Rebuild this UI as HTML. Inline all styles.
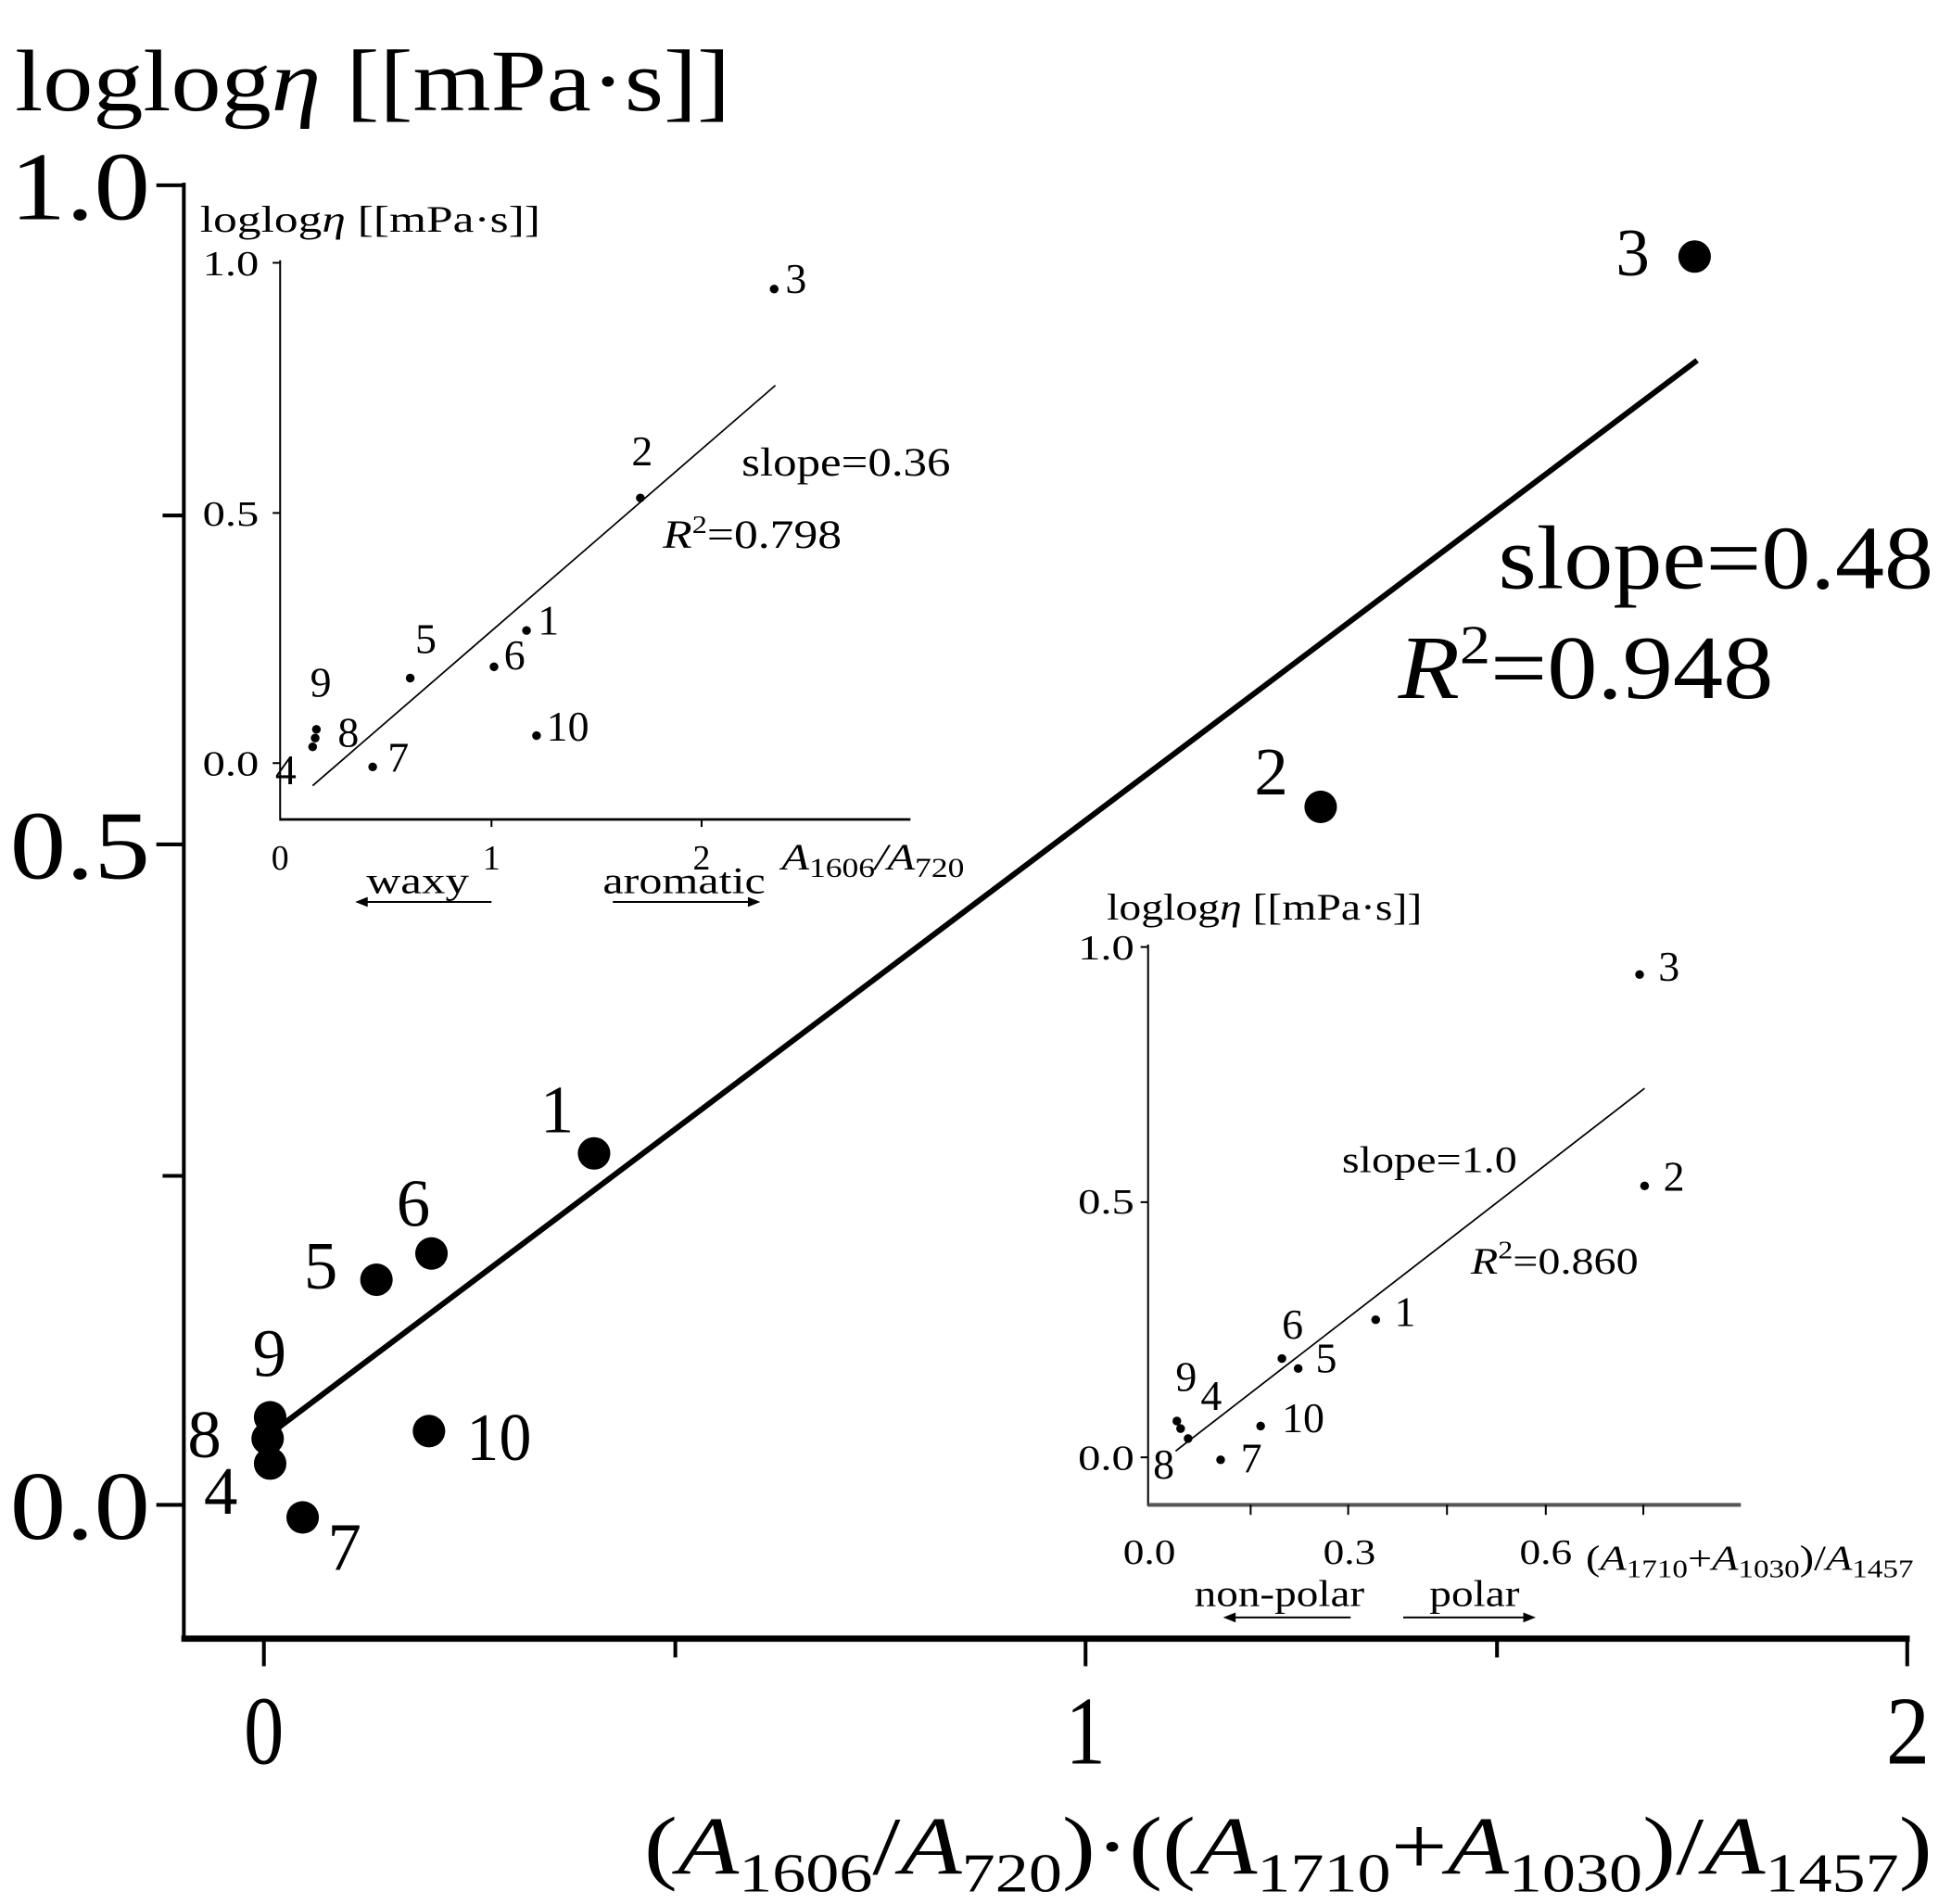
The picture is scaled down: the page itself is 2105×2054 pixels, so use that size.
<!DOCTYPE html>
<html><head><meta charset="utf-8"><style>html,body{margin:0;padding:0;background:#fff}svg{display:block}text{font-family:"Liberation Serif","Times New Roman",serif;fill:#000}</style></head><body>
<svg width="2105" height="2054" viewBox="0 0 1560 1522" xmlns="http://www.w3.org/2000/svg" font-family="Liberation Serif, serif">
<rect width="1560" height="1522" fill="#fff"/>
<text x="12" y="88" font-size="70" textLength="572" lengthAdjust="spacingAndGlyphs">loglog<tspan font-style="italic">η</tspan> [[mPa·s]]</text>
<g stroke="#000" fill="none">
<line x1="147" y1="146" x2="147" y2="1312" stroke-width="3"/>
<line x1="145" y1="1310" x2="1527" y2="1310" stroke-width="5"/>
<g stroke-width="3">
<line x1="125" y1="148" x2="147" y2="148"/><line x1="130" y1="412" x2="147" y2="412"/><line x1="125" y1="675" x2="147" y2="675"/><line x1="130" y1="940" x2="147" y2="940"/><line x1="125" y1="1203" x2="147" y2="1203"/>
<line x1="211" y1="1310" x2="211" y2="1332"/><line x1="540" y1="1310" x2="540" y2="1325"/><line x1="868" y1="1310" x2="868" y2="1332"/><line x1="1197" y1="1310" x2="1197" y2="1325"/><line x1="1525" y1="1310" x2="1525" y2="1332"/>
</g>
<line x1="211" y1="1150" x2="1357" y2="288" stroke-width="4.5"/>
</g>
<g font-size="78">
<text x="8" y="175" textLength="112" lengthAdjust="spacingAndGlyphs">1.0</text>
<text x="8" y="702" textLength="112" lengthAdjust="spacingAndGlyphs">0.5</text>
<text x="8" y="1230" textLength="112" lengthAdjust="spacingAndGlyphs">0.0</text>
<text x="195" y="1410" textLength="32" lengthAdjust="spacingAndGlyphs">0</text>
<text x="852" y="1410" textLength="32" lengthAdjust="spacingAndGlyphs">1</text>
<text x="1508" y="1410" textLength="35" lengthAdjust="spacingAndGlyphs">2</text>
</g>
<text x="515" y="1498" font-size="66" textLength="1030" lengthAdjust="spacingAndGlyphs">(<tspan font-style="italic">A</tspan><tspan font-size="44" dy="14">1606</tspan><tspan dy="-14">/</tspan><tspan font-style="italic">A</tspan><tspan font-size="44" dy="14">720</tspan><tspan dy="-14">)·((</tspan><tspan font-style="italic">A</tspan><tspan font-size="44" dy="14">1710</tspan><tspan dy="-14">+</tspan><tspan font-style="italic">A</tspan><tspan font-size="44" dy="14">1030</tspan><tspan dy="-14">)/</tspan><tspan font-style="italic">A</tspan><tspan font-size="44" dy="14">1457</tspan><tspan dy="-14">)</tspan></text>
<text x="1198" y="470" font-size="72" textLength="348" lengthAdjust="spacingAndGlyphs">slope=0.48</text>
<text x="1118" y="558" font-size="72" textLength="300" lengthAdjust="spacingAndGlyphs"><tspan font-style="italic">R</tspan><tspan font-size="44" dy="-28">2</tspan><tspan dy="28">=0.948</tspan></text>
<g fill="#000">
<circle cx="1355" cy="205" r="13"/><circle cx="1056" cy="645" r="13"/><circle cx="475" cy="922" r="13"/><circle cx="345" cy="1002" r="13"/><circle cx="301" cy="1023" r="13"/><circle cx="216" cy="1133" r="13"/><circle cx="214" cy="1150" r="13"/><circle cx="216" cy="1170" r="13"/><circle cx="343" cy="1144" r="13"/><circle cx="242" cy="1213" r="13"/>
</g>
<g font-size="54">
<text x="1292" y="220">3</text><text x="1003" y="635">2</text><text x="432" y="905">1</text><text x="317" y="980">6</text><text x="243" y="1030">5</text><text x="202" y="1100">9</text><text x="150" y="1165">8</text><text x="163" y="1210">4</text><text x="373" y="1167" textLength="52" lengthAdjust="spacingAndGlyphs">10</text><text x="262" y="1255">7</text>
</g>
<!-- inset 1 -->
<text x="160" y="185" font-size="30" textLength="272" lengthAdjust="spacingAndGlyphs">loglog<tspan font-style="italic">η</tspan> [[mPa·s]]</text>
<g stroke="#000" fill="none" stroke-width="1.5">
<line x1="224" y1="208" x2="224" y2="656"/><line x1="224" y1="655" x2="728" y2="655" stroke-width="2"/>
<line x1="218" y1="210" x2="224" y2="210"/><line x1="218" y1="410" x2="224" y2="410"/><line x1="218" y1="610" x2="224" y2="610"/>
<line x1="393" y1="655" x2="393" y2="661"/><line x1="561" y1="655" x2="561" y2="661"/>
<line x1="250" y1="628" x2="620" y2="308" stroke-width="1.3"/>
<line x1="288" y1="721" x2="393" y2="721"/><line x1="490" y1="721" x2="604" y2="721"/>
</g>
<path d="M284 721 l10 -4 v8z M608 721 l-10 -4 v8z" fill="#000"/>
<g font-size="28">
<text x="162" y="220" textLength="45" lengthAdjust="spacingAndGlyphs">1.0</text><text x="162" y="420" textLength="45" lengthAdjust="spacingAndGlyphs">0.5</text><text x="162" y="620" textLength="45" lengthAdjust="spacingAndGlyphs">0.0</text>
<text x="224" y="695" text-anchor="middle">0</text><text x="393" y="695" text-anchor="middle">1</text><text x="561" y="695" text-anchor="middle">2</text>
</g>
<text x="625" y="695" font-size="30" font-style="italic" textLength="146" lengthAdjust="spacingAndGlyphs">A<tspan font-size="22" dy="6" font-style="normal">1606</tspan><tspan dy="-6">/A</tspan><tspan font-size="22" dy="6" font-style="normal">720</tspan></text>
<text x="293" y="714" font-size="30" textLength="82" lengthAdjust="spacingAndGlyphs">waxy</text><text x="482" y="714" font-size="30" textLength="130" lengthAdjust="spacingAndGlyphs">aromatic</text>
<text x="593" y="380" font-size="32" textLength="167" lengthAdjust="spacingAndGlyphs">slope=0.36</text>
<text x="530" y="438" font-size="32" textLength="143" lengthAdjust="spacingAndGlyphs"><tspan font-style="italic">R</tspan><tspan font-size="20" dy="-12">2</tspan><tspan dy="12">=0.798</tspan></text>
<g fill="#000">
<circle cx="619" cy="231" r="3.5"/><circle cx="512" cy="398" r="3.5"/><circle cx="421" cy="504" r="3.5"/><circle cx="395" cy="533" r="3.5"/><circle cx="328" cy="542" r="3.5"/><circle cx="253" cy="583" r="3.5"/><circle cx="252" cy="590" r="3.5"/><circle cx="250" cy="597" r="3.5"/><circle cx="429" cy="588" r="3.5"/><circle cx="298" cy="613" r="3.5"/>
</g>
<g font-size="34">
<text x="628" y="234">3</text><text x="505" y="372">2</text><text x="430" y="507">1</text><text x="403" y="535">6</text><text x="332" y="522">5</text><text x="248" y="557">9</text><text x="270" y="597">8</text><text x="220" y="627">4</text><text x="437" y="592">10</text><text x="310" y="617">7</text>
</g>
<!-- inset 2 -->
<text x="885" y="735" font-size="30" textLength="252" lengthAdjust="spacingAndGlyphs">loglog<tspan font-style="italic">η</tspan> [[mPa·s]]</text>
<g stroke="#000" fill="none" stroke-width="1.5">
<line x1="918" y1="755" x2="918" y2="1204"/><line x1="918" y1="1203" x2="1392" y2="1203" stroke="#555" stroke-width="3"/>
<line x1="912" y1="757" x2="918" y2="757"/><line x1="912" y1="961" x2="918" y2="961"/><line x1="912" y1="1165" x2="918" y2="1165"/>
<line x1="1000" y1="1203" x2="1000" y2="1211"/><line x1="1078" y1="1203" x2="1078" y2="1211"/><line x1="1157" y1="1203" x2="1157" y2="1211"/><line x1="1236" y1="1203" x2="1236" y2="1211"/><line x1="1314" y1="1203" x2="1314" y2="1211"/>
<line x1="940" y1="1160" x2="1315" y2="870" stroke-width="1.3"/>
<line x1="982" y1="1293" x2="1080" y2="1293"/><line x1="1122" y1="1293" x2="1224" y2="1293"/>
</g>
<path d="M978 1293 l10 -4 v8z M1228 1293 l-10 -4 v8z" fill="#000"/>
<g font-size="28">
<text x="862" y="767" textLength="45" lengthAdjust="spacingAndGlyphs">1.0</text><text x="862" y="970" textLength="45" lengthAdjust="spacingAndGlyphs">0.5</text><text x="862" y="1175" textLength="45" lengthAdjust="spacingAndGlyphs">0.0</text>
<text x="898" y="1250" textLength="42" lengthAdjust="spacingAndGlyphs">0.0</text><text x="1058" y="1250" textLength="42" lengthAdjust="spacingAndGlyphs">0.3</text><text x="1215" y="1250" textLength="42" lengthAdjust="spacingAndGlyphs">0.6</text>
</g>
<text x="1268" y="1255" font-size="28" textLength="262" lengthAdjust="spacingAndGlyphs">(<tspan font-style="italic">A</tspan><tspan font-size="20" dy="6">1710</tspan><tspan dy="-6">+</tspan><tspan font-style="italic">A</tspan><tspan font-size="20" dy="6">1030</tspan><tspan dy="-6">)/</tspan><tspan font-style="italic">A</tspan><tspan font-size="20" dy="6">1457</tspan></text>
<text x="955" y="1284" font-size="30" textLength="136" lengthAdjust="spacingAndGlyphs">non-polar</text><text x="1143" y="1284" font-size="30" textLength="72" lengthAdjust="spacingAndGlyphs">polar</text>
<text x="1073" y="937" font-size="30" textLength="140" lengthAdjust="spacingAndGlyphs">slope=1.0</text>
<text x="1176" y="1018" font-size="30" textLength="134" lengthAdjust="spacingAndGlyphs"><tspan font-style="italic">R</tspan><tspan font-size="20" dy="-12">2</tspan><tspan dy="12">=0.860</tspan></text>
<g fill="#000">
<circle cx="1311" cy="779" r="3.5"/><circle cx="1315" cy="948" r="3.5"/><circle cx="1100" cy="1055" r="3.5"/><circle cx="1025" cy="1086" r="3.5"/><circle cx="1038" cy="1094" r="3.5"/><circle cx="941" cy="1136" r="3.5"/><circle cx="944" cy="1142" r="3.5"/><circle cx="950" cy="1150" r="3.5"/><circle cx="1008" cy="1140" r="3.5"/><circle cx="976" cy="1167" r="3.5"/>
</g>
<g font-size="34">
<text x="1326" y="784">3</text><text x="1330" y="952">2</text><text x="1115" y="1060">1</text><text x="1025" y="1070">6</text><text x="1052" y="1097">5</text><text x="940" y="1112">9</text><text x="960" y="1127">4</text><text x="922" y="1182">8</text><text x="1025" y="1145">10</text><text x="992" y="1177">7</text>
</g>
</svg>
</body></html>
